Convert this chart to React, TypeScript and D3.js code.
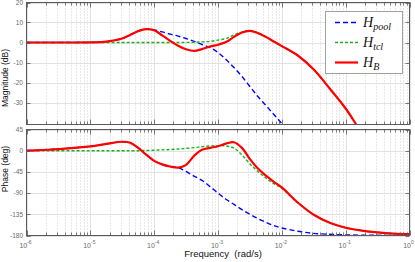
import React from "react";
import * as d3 from "d3";

// log10 of frequency (rad/s) at which the curves were read
const freqExp = [-6, -5.75, -5.5, -5, -4.75, -4.5, -4.375, -4.25, -4.125, -4, -3.875, -3.75, -3.625, -3.5, -3.375, -3.25, -3.125, -3, -2.875, -2.75, -2.625, -2.5, -2.375, -2.25, -2.125, -2, -1.75, -1.5, -1.25, -1, -0.75, -0.5, -0.25, 0];

const magPool = [0, 0, 0, 0.05, 0.4, 2, 3.8, 5.7, 6.7, 6.3, 5.3, 4.2, 3.2, 2, 0.6, -1, -2.5, -5, -8.5, -12.5, -17, -22, -27, -31.5, -36, -40.5, -50, -60, -70, -80, -90, -100, -110, -120];
const magTcl = [0, 0, 0, 0, 0, 0, 0, 0, 0, 0, 0, 0, 0, 0.05, 0.1, 0.3, 0.6, 1.2, 2, 3.8, 5.2, 5.9, 4.9, 2.8, 0.5, -1.8, -6.5, -13.5, -23, -33, -45, -55, -65, -75];
const magB = [0, 0, 0, 0.05, 0.4, 2, 3.8, 5.7, 6.7, 6.1, 3.6, 0.8, -1.6, -3.4, -4.2, -3.3, -2, -1.1, 0.2, 2.8, 5, 5.8, 4.7, 2.8, 0.5, -1.8, -6.5, -13.5, -23, -33, -45, -55, -65, -75];

const phasePool = [0, 1.5, 3.5, 9, 14.3, 19, 17, 6, -8.5, -21.5, -29, -33.5, -36, -44, -54, -63, -76, -90, -103, -114, -125, -135, -144, -152, -159, -164, -171, -175.5, -177.5, -178.7, -179.3, -179.6, -179.8, -180];
const phaseTcl = [0, 0, 0, 0, 0, 0, 0, 0, 0.5, 1, 1.8, 2.5, 3.5, 5, 6.5, 8.5, 10, 10.8, 10, 5.5, -9, -28, -44, -58, -70, -80, -111, -136, -153, -163.5, -169.5, -173.5, -176, -177];
const phaseB = [0, 1.5, 3.5, 9, 14.3, 19, 17, 6, -8.5, -21.5, -29, -33.5, -36, -30, -11, 2, 6, 9.5, 15, 18, 6, -18, -38, -53, -66, -78, -110, -136, -153, -163.5, -169.5, -173.5, -176, -177];

const magTicks = [-30, -20, -10, 0, 10, 20];
const phaseTicks = [-180, -135, -90, -45, 0, 45];
const decadeExps = [-6, -5, -4, -3, -2, -1, 0];
const legendSubs = ["pool", "tcl", "B"];

const W = 415;
const H = 262;
const L = 26.5;
const R = 409.5;
const MAG_TOP = 2.5, MAG_BOT = 124.5;
const PH_TOP = 129.5, PH_BOT = 235.5;

const COLORS = ["#0000ff", "#1fae1f", "#ff0000"];
const DASH = ["5,3", "3,2", undefined];
const WIDTHS = [1.4, 1.4, 2.2];

const FONT = "'Liberation Sans', Arial, Helvetica, sans-serif";
const AXIS = "#5a5a5a";
const TICKCOL = "#6a6a6a";

const xScale = d3.scaleLog().domain([1e-6, 1]).range([L, R]);
const freqs = freqExp.map((e) => Math.pow(10, e));

const minorFreqs: number[] = [];
decadeExps.slice(0, -1).forEach((e) => {
  for (let k = 2; k <= 9; k++) minorFreqs.push(k * Math.pow(10, e));
});
const majorFreqs = decadeExps.map((e) => Math.pow(10, e));

type PanelProps = {
  id: string;
  top: number;
  bottom: number;
  domain: [number, number];
  ticks: number[];
  series: number[][];
  ylabel: string;
  ylabelY: number;
  showX: boolean;
};

function Panel({ id, top, bottom, domain, ticks, series, ylabel, ylabelY, showX }: PanelProps) {
  const y = d3.scaleLinear().domain(domain).range([bottom, top]);
  const line = d3
    .line<number>()
    .x((_, i) => xScale(freqs[i]))
    .y((d) => y(d))
    .curve(d3.curveCatmullRom.alpha(0.5));
  return (
    <g>
      <defs>
        <clipPath id={id}>
          <rect x={L} y={top} width={R - L} height={bottom - top} />
        </clipPath>
      </defs>
      <rect x={L} y={top} width={R - L} height={bottom - top} fill="#fff" />
      {minorFreqs.map((f, i) => (
        <line key={"mg" + i} x1={Math.round(xScale(f)) + 0.5} x2={Math.round(xScale(f)) + 0.5} y1={top} y2={bottom} stroke="#c8c8c8" strokeWidth={0.8} strokeDasharray="1,2" />
      ))}
      {majorFreqs.map((f, i) => (
        <line key={"Mg" + i} x1={Math.round(xScale(f)) + 0.5} x2={Math.round(xScale(f)) + 0.5} y1={top} y2={bottom} stroke="#e2e2e2" strokeWidth={1} />
      ))}
      {ticks.map((t, i) => (
        <line key={"hg" + i} x1={L} x2={R} y1={Math.round(y(t)) + 0.5} y2={Math.round(y(t)) + 0.5} stroke="#e2e2e2" strokeWidth={1} />
      ))}
      <g clipPath={`url(#${id})`}>
        {series.map((s, i) => (
          <path key={"s" + i} d={line(s) || ""} fill="none" stroke={COLORS[i]} strokeWidth={WIDTHS[i]} strokeDasharray={DASH[i]} strokeLinejoin="round" />
        ))}
      </g>
      {minorFreqs.map((f, i) => {
        const xx = Math.round(xScale(f)) + 0.5;
        return (
          <g key={"mt" + i}>
            <line x1={xx} x2={xx} y1={bottom} y2={bottom - 3} stroke={AXIS} strokeWidth={0.8} />
            <line x1={xx} x2={xx} y1={top} y2={top + 3} stroke={AXIS} strokeWidth={0.8} />
          </g>
        );
      })}
      {majorFreqs.map((f, i) => {
        const xx = Math.round(xScale(f)) + 0.5;
        return (
          <g key={"Mt" + i}>
            <line x1={xx} x2={xx} y1={bottom} y2={bottom - 5} stroke={AXIS} strokeWidth={0.8} />
            <line x1={xx} x2={xx} y1={top} y2={top + 5} stroke={AXIS} strokeWidth={0.8} />
          </g>
        );
      })}
      {ticks.map((t, i) => {
        const yy = Math.round(y(t)) + 0.5;
        return (
          <g key={"yt" + i}>
            <line x1={L} x2={L + 4} y1={yy} y2={yy} stroke={AXIS} strokeWidth={0.8} />
            <line x1={R} x2={R - 4} y1={yy} y2={yy} stroke={AXIS} strokeWidth={0.8} />
            <text x={L - 3.5} y={y(t)} dy="0.35em" textAnchor="end" fontFamily={FONT} fontSize={6.5} fill={TICKCOL}>
              {String(t)}
            </text>
          </g>
        );
      })}
      <rect x={L} y={top} width={R - L} height={bottom - top} fill="none" stroke={AXIS} strokeWidth={1} />
      <text transform={`translate(8,${ylabelY}) rotate(-90)`} textAnchor="middle" fontFamily={FONT} fontSize={8.5} fill="#111">
        {ylabel}
      </text>
      {showX &&
        decadeExps.map((e, i) => (
          <text key={"xl" + i} x={xScale(Math.pow(10, e)) - 1} y={bottom + 12} textAnchor="middle" fontFamily={FONT} fontSize={7} fill={TICKCOL}>
            10
            <tspan fontSize={5} dy={-3.5}>
              {e === 0 ? "0" : String(e)}
            </tspan>
          </text>
        ))}
    </g>
  );
}

export default function App() {
  const legendX = 325.5, legendY = 11.5, legendW = 77, legendH = 62;
  return (
    <svg width={W} height={H} style={{ position: "absolute", left: 0, top: 0, background: "#fff" }}>
      <rect x={0} y={0} width={W} height={H} fill="#fff" />
      <Panel id="clipMag" top={MAG_TOP} bottom={MAG_BOT} domain={[-41, 20]} ticks={magTicks} series={[magPool, magTcl, magB]} ylabel="Magnitude (dB)" ylabelY={78} showX={false} />
      <Panel id="clipPh" top={PH_TOP} bottom={PH_BOT} domain={[-180, 45]} ticks={phaseTicks} series={[phasePool, phaseTcl, phaseB]} ylabel="Phase (deg)" ylabelY={169} showX={true} />
      <text x={223} y={256.5} textAnchor="middle" fontFamily={FONT} fontSize={9.5} fill="#111" style={{ whiteSpace: "pre" }}>
        {"Frequency  (rad/s)"}
      </text>
      <rect x={legendX} y={legendY} width={legendW} height={legendH} fill="#fff" stroke="#98a898" strokeWidth={1} />
      {legendSubs.map((sub, i) => {
        const yy = 22.5 + i * 20;
        return (
          <g key={"lg" + i}>
            <line x1={335} x2={358} y1={yy} y2={yy} stroke={COLORS[i]} strokeWidth={WIDTHS[i]} strokeDasharray={DASH[i]} />
            <text x={363} y={yy + 4} fontFamily="'Liberation Serif', 'Times New Roman', serif" fontStyle="italic" fontSize={14} fill="#111">
              H
              <tspan fontSize={10} dy={3}>
                {sub}
              </tspan>
            </text>
          </g>
        );
      })}
    </svg>
  );
}
